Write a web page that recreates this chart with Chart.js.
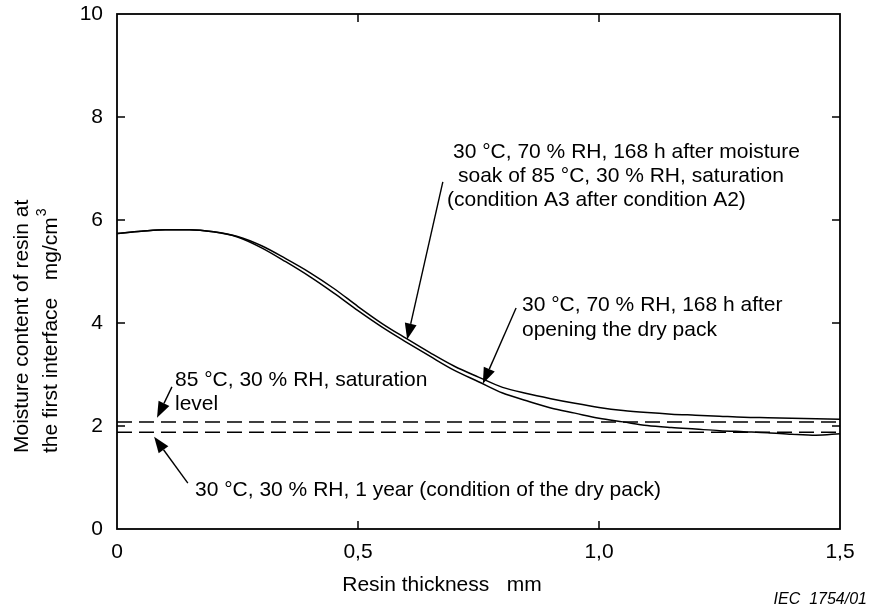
<!DOCTYPE html>
<html>
<head>
<meta charset="utf-8">
<script src="https://cdn.jsdelivr.net/npm/chart.js@4.4.0/dist/chart.umd.min.js"></script>
<style>
  body { margin: 0; background: #fff; }
  #wrap { width: 870px; height: 610px; }
</style>
</head>
<body>
<div id="wrap"><canvas id="chart" width="870" height="610"></canvas></div>
<script>
// resin thickness (mm) at which the curves were read
const thickness = [0, 0.05, 0.1, 0.15, 0.2, 0.25, 0.3, 0.35, 0.4, 0.45, 0.5, 0.55, 0.6, 0.65, 0.7, 0.75,
  0.8, 0.85, 0.9, 0.95, 1.0, 1.05, 1.1, 1.15, 1.2, 1.25, 1.3, 1.35, 1.4, 1.45, 1.5];
// 30 °C, 70 % RH, 168 h after A2 saturation (condition A3 after A2)
const soakAfterA2 = [5.74, 5.78, 5.81, 5.81, 5.77, 5.68, 5.50, 5.25, 4.98, 4.67, 4.32, 3.99, 3.70, 3.42, 3.16, 2.95,
  2.75, 2.63, 2.53, 2.44, 2.36, 2.30, 2.26, 2.23, 2.21, 2.19, 2.17, 2.16, 2.15, 2.14, 2.13];
// 30 °C, 70 % RH, 168 h after opening the dry pack
const afterDryPack = [5.74, 5.78, 5.81, 5.81, 5.77, 5.67, 5.46, 5.19, 4.90, 4.58, 4.24, 3.92, 3.63, 3.35, 3.08, 2.86,
  2.64, 2.49, 2.35, 2.25, 2.15, 2.08, 2.01, 1.97, 1.94, 1.91, 1.89, 1.87, 1.84, 1.82, 1.85];
const saturationLevel = 2.08;   // 85 °C, 30 % RH
const dryPackLevel = 1.88;      // 30 °C, 30 % RH, 1 year

const xTickValues = [0, 0.5, 1.0, 1.5];
const xTickLabels = ['0', '0,5', '1,0', '1,5'];
const yTickValues = [0, 2, 4, 6, 8, 10];
const yTickLabels = ['0', '2', '4', '6', '8', '10'];

const FONT = '"Liberation Sans", Arial, sans-serif';

function series(ys) {
  return thickness.map((x, i) => ({ x: x, y: ys[i] }));
}
function flat(v) {
  return [{ x: thickness[0], y: v }, { x: thickness[thickness.length - 1], y: v }];
}

// arrow [fromX, fromY, toX, toY] in axis units
const arrows = [
  [0.676, 6.74, 0.602, 3.68],
  [0.828, 4.29, 0.759, 2.82],
  [0.114, 2.76, 0.083, 2.16],
  [0.147, 0.89, 0.077, 1.79]
];

const notes = [
  { x: 453, y: 152, text: '30 °C, 70 % RH, 168 h after moisture' },
  { x: 458, y: 176, text: 'soak of 85 °C, 30 % RH, saturation' },
  { x: 447, y: 200, text: '(condition A3 after condition A2)' },
  { x: 522, y: 305, text: '30 °C, 70 % RH, 168 h after' },
  { x: 522, y: 330, text: 'opening the dry pack' },
  { x: 175, y: 380, text: '85 °C, 30 % RH, saturation' },
  { x: 175, y: 404, text: 'level' },
  { x: 195, y: 490, text: '30 °C, 30 % RH, 1 year (condition of the dry pack)' }
];

function drawArrow(ctx, x1, y1, x2, y2) {
  const ang = Math.atan2(y2 - y1, x2 - x1);
  const len = 16, half = 6;
  const bx = x2 - len * Math.cos(ang), by = y2 - len * Math.sin(ang);
  ctx.beginPath();
  ctx.moveTo(x1, y1);
  ctx.lineTo(bx, by);
  ctx.stroke();
  ctx.beginPath();
  ctx.moveTo(x2, y2);
  ctx.lineTo(bx + half * Math.sin(ang), by - half * Math.cos(ang));
  ctx.lineTo(bx - half * Math.sin(ang), by + half * Math.cos(ang));
  ctx.closePath();
  ctx.fill();
}

const decorations = {
  id: 'decorations',
  afterDatasetsDraw(chart) {
    const ctx = chart.ctx, a = chart.chartArea;
    const xs = chart.scales.x, ys = chart.scales.y;
    ctx.save();
    ctx.strokeStyle = '#000';
    ctx.fillStyle = '#000';

    // frame
    ctx.lineWidth = 1.8;
    ctx.strokeRect(a.left, a.top, a.right - a.left, a.bottom - a.top);

    // inward tick marks on all four sides
    ctx.lineWidth = 1.5;
    ctx.beginPath();
    yTickValues.slice(1, -1).forEach(v => {
      const y = ys.getPixelForValue(v);
      ctx.moveTo(a.left, y); ctx.lineTo(a.left + 8, y);
      ctx.moveTo(a.right, y); ctx.lineTo(a.right - 8, y);
    });
    xTickValues.slice(1, -1).forEach(v => {
      const x = xs.getPixelForValue(v);
      ctx.moveTo(x, a.top); ctx.lineTo(x, a.top + 8);
      ctx.moveTo(x, a.bottom); ctx.lineTo(x, a.bottom - 8);
    });
    ctx.stroke();

    // arrows
    ctx.lineWidth = 1.4;
    arrows.forEach(r => {
      drawArrow(ctx, xs.getPixelForValue(r[0]), ys.getPixelForValue(r[1]),
        xs.getPixelForValue(r[2]), ys.getPixelForValue(r[3]));
    });

    // callout texts
    ctx.font = '21px ' + FONT;
    ctx.textAlign = 'left';
    ctx.textBaseline = 'middle';
    notes.forEach(n => ctx.fillText(n.text, n.x, n.y));

    // x axis title
    ctx.textAlign = 'center';
    ctx.fillText('Resin thickness   mm', 442, 585);

    // y axis title (two lines, rotated)
    ctx.save();
    ctx.translate(0, 453);
    ctx.rotate(-Math.PI / 2);
    ctx.textAlign = 'left';
    ctx.fillText('Moisture content of resin at', 0, 22);
    const line2 = 'the first interface   mg/cm';
    ctx.fillText(line2, 0, 51);
    const w = ctx.measureText(line2).width;
    ctx.font = '14px ' + FONT;
    ctx.fillText('3', w + 1, 42);
    ctx.restore();

    // figure reference
    ctx.font = 'italic 16px ' + FONT;
    ctx.textAlign = 'right';
    ctx.fillText('IEC  1754/01', 867, 600);

    ctx.restore();
  }
};

const lineStyle = {
  borderColor: '#000',
  borderWidth: 1.5,
  pointRadius: 0,
  fill: false,
  cubicInterpolationMode: 'monotone'
};

new Chart(document.getElementById('chart').getContext('2d'), {
  type: 'line',
  data: {
    datasets: [
      Object.assign({ label: 'A3 after A2', data: series(soakAfterA2) }, lineStyle),
      Object.assign({ label: 'after opening dry pack', data: series(afterDryPack) }, lineStyle),
      Object.assign({ label: '85 °C, 30 % RH saturation', data: flat(saturationLevel), borderDash: [15, 7] }, lineStyle),
      Object.assign({ label: '30 °C, 30 % RH, 1 year', data: flat(dryPackLevel), borderDash: [15, 7] }, lineStyle)
    ]
  },
  options: {
    responsive: false,
    animation: false,
    devicePixelRatio: 1,
    layout: { padding: { top: 14, right: 30, left: 0, bottom: 0 } },
    plugins: { legend: { display: false }, tooltip: { enabled: false } },
    scales: {
      x: {
        type: 'linear',
        min: 0,
        max: 1.5,
        grid: { display: false, drawTicks: false },
        border: { display: false },
        afterBuildTicks: s => { s.ticks = xTickValues.map(v => ({ value: v })); },
        afterFit: s => { s.height = 81; s.paddingLeft = 0; s.paddingRight = 0; },
        ticks: {
          padding: 11,
          maxRotation: 0,
          autoSkip: false,
          color: '#000',
          font: { family: FONT, size: 21 },
          callback: (v) => xTickLabels[xTickValues.indexOf(v)]
        }
      },
      y: {
        min: 0,
        max: 10,
        grid: { display: false, drawTicks: false },
        border: { display: false },
        afterBuildTicks: s => { s.ticks = yTickValues.map(v => ({ value: v })); },
        afterFit: s => { s.width = 117; s.paddingTop = 0; s.paddingBottom = 0; },
        ticks: {
          padding: 14,
          color: '#000',
          font: { family: FONT, size: 21 },
          callback: (v) => yTickLabels[yTickValues.indexOf(v)]
        }
      }
    }
  },
  plugins: [decorations]
});
</script>
</body>
</html>
